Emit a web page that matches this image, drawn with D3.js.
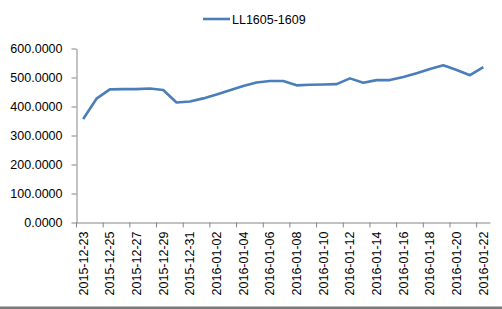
<!DOCTYPE html>
<html><head><meta charset="utf-8">
<script src="https://cdn.jsdelivr.net/npm/d3@7"></script>
<style>
html,body{margin:0;padding:0;background:#fff;}
svg{display:block;}
text{font-family:"Liberation Sans",Arial,sans-serif;fill:#000;}
</style></head>
<body>
<svg id="c" width="502" height="309"></svg>
<script>
const seriesName = "LL1605-1609";
const dates = ["2015-12-23","2015-12-24","2015-12-25","2015-12-26","2015-12-27","2015-12-28","2015-12-29","2015-12-30","2015-12-31",
"2016-01-01","2016-01-02","2016-01-03","2016-01-04","2016-01-05","2016-01-06","2016-01-07","2016-01-08","2016-01-09","2016-01-10",
"2016-01-11","2016-01-12","2016-01-13","2016-01-14","2016-01-15","2016-01-16","2016-01-17","2016-01-18","2016-01-19","2016-01-20",
"2016-01-21","2016-01-22"];
const values = [357,427,459,460,460,462,457,414,417,428,441,456,471,483,488,488,473,475,476,477,497,482,491,491,502,515,529,542,526,508,536];
const yTicks = [0,100,200,300,400,500,600];

const svg = d3.select("#c");
const mLeft = 76.5, mRight = 490, mTop = 48.5, mBottom = 222.5;
const x = d3.scaleBand().domain(dates).range([mLeft, mRight]).padding(0);
const y = d3.scaleLinear().domain([0, 600]).range([mBottom, mTop]);
const bw = x.bandwidth();
const axisColor = "#868686";

// y axis
const ya = svg.append("g").attr("transform", `translate(${mLeft},0)`)
  .call(d3.axisLeft(y).tickValues(yTicks).tickFormat(d3.format(".4f")).tickSizeInner(5).tickSizeOuter(0).tickPadding(9));
ya.select(".domain").attr("stroke", axisColor);
ya.selectAll(".tick line").attr("stroke", axisColor);
ya.selectAll(".tick text").style("font-size", "12.5px").style("font-family", "'Liberation Sans',Arial,sans-serif").attr("fill", "#000");

// x axis
const labelDates = dates.filter((d, i) => i % 2 === 0);
const xa = svg.append("g").attr("transform", `translate(0,${mBottom})`)
  .call(d3.axisBottom(x).tickValues(labelDates).tickSizeInner(5).tickSizeOuter(0));
xa.select(".domain").attr("stroke", axisColor);
xa.selectAll(".tick line").attr("stroke", axisColor).attr("x1", -bw/2).attr("x2", -bw/2);
xa.selectAll(".tick text")
  .style("font-size", "12.5px").style("font-family", "'Liberation Sans',Arial,sans-serif").attr("fill", "#000")
  .attr("text-anchor", "end")
  .attr("transform", "rotate(-90)")
  .attr("x", -9).attr("y", 0).attr("dy", "0.35em");

// line
const line = d3.line().x((d, i) => x(dates[i]) + bw/2).y(d => y(d));
svg.append("path").datum(values)
  .attr("fill", "none").attr("stroke", "#4a7ebb").attr("stroke-width", 2.6)
  .attr("stroke-linejoin", "round").attr("d", line);

// legend
const lg = svg.append("g");
lg.append("line").attr("x1", 203).attr("x2", 230).attr("y1", 19).attr("y2", 19)
  .attr("stroke", "#4a7ebb").attr("stroke-width", 2.6);
lg.append("text").attr("x", 232).attr("y", 23.5).style("font-size", "12.5px").text(seriesName);

// bottom border band
svg.append("rect").attr("x", 0).attr("y", 306.5).attr("width", 502).attr("height", 2.5).attr("fill", "#7a7a7a");
</script>
</body></html>
